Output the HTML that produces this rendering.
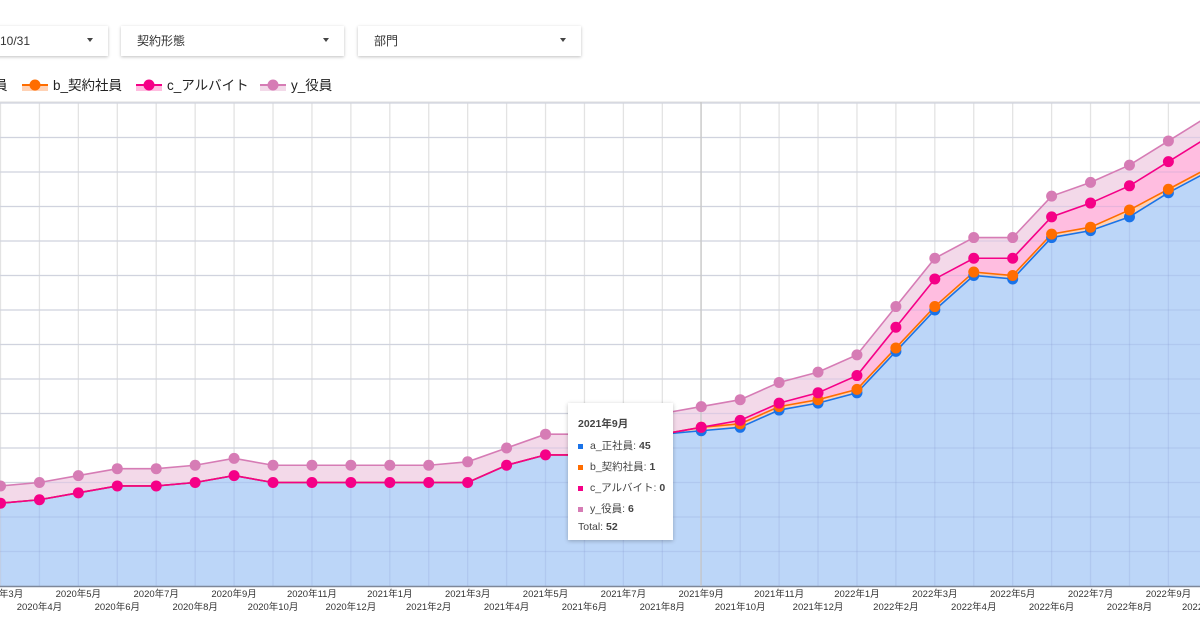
<!DOCTYPE html>
<html><head><meta charset="utf-8">
<style>
body{margin:0;width:1200px;height:628px;background:#fff;overflow:hidden;font-family:"Liberation Sans","Noto Sans CJK JP",sans-serif;position:relative}
.dd{position:absolute;top:26px;height:30px;background:#fff;box-shadow:0 1px 3px rgba(0,0,0,.25);font-size:12px;color:#333;line-height:30px}
.dd span.t{position:absolute;left:16px}
.dd span.a{position:absolute;right:15px;top:12px;width:0;height:0;border-left:3.5px solid transparent;border-right:3.5px solid transparent;border-top:4px solid #444}
.lg{position:absolute;top:77px;font-size:13.5px;color:#222;line-height:18px}
.tt{position:absolute;left:568px;top:403px;width:105px;height:137px;background:#fff;box-shadow:0 1px 4px rgba(0,0,0,.25);font-size:10.5px;color:#444}
.tt div{position:absolute;left:10px;white-space:nowrap}
.sq{display:inline-block;width:5px;height:5px;margin-right:7px;vertical-align:middle}
</style></head><body>
<div class="dd" style="left:-10px;width:118px"><span class="t" style="left:10px">10/31</span><span class="a"></span></div>
<div class="dd" style="left:121px;width:223px"><span class="t">契約形態</span><span class="a"></span></div>
<div class="dd" style="left:358px;width:223px"><span class="t">部門</span><span class="a"></span></div>
<svg width="1200" height="628" style="position:absolute;left:0;top:0">
<g id="grid"></g><g id="areas"></g><g id="lines"></g><g id="dots"></g><g id="xl"></g>
</svg>
<div class="lg" style="left:-6px">員</div>
<div class="lg" style="left:22px"><svg width="26" height="14" style="vertical-align:-2px;margin-right:5px"><rect x="0" y="7" width="26" height="6" fill="#ffd2b5"/><line x1="0" y1="7" x2="26" y2="7" stroke="#ff6d00" stroke-width="2"/><circle cx="13" cy="7" r="5.5" fill="#ff6d00"/></svg>b_契約社員</div>
<div class="lg" style="left:136px"><svg width="26" height="14" style="vertical-align:-2px;margin-right:5px"><rect x="0" y="7" width="26" height="6" fill="#ffbde0"/><line x1="0" y1="7" x2="26" y2="7" stroke="#f50087" stroke-width="2"/><circle cx="13" cy="7" r="5.5" fill="#f50087"/></svg>c_アルバイト</div>
<div class="lg" style="left:260px"><svg width="26" height="14" style="vertical-align:-2px;margin-right:5px"><rect x="0" y="7" width="26" height="6" fill="#f3d9e9"/><line x1="0" y1="7" x2="26" y2="7" stroke="#d67cb5" stroke-width="2"/><circle cx="13" cy="7" r="5.5" fill="#d67cb5"/></svg>y_役員</div>
<div class="tt">
<div style="top:13px;font-weight:bold">2021年9月</div>
<div style="top:35px"><span class="sq" style="background:#1a73e8"></span>a_正社員: <b>45</b></div>
<div style="top:56px"><span class="sq" style="background:#ff6d00"></span>b_契約社員: <b>1</b></div>
<div style="top:77px"><span class="sq" style="background:#f50087"></span>c_アルバイト: <b>0</b></div>
<div style="top:98px"><span class="sq" style="background:#d67cb5"></span>y_役員: <b>6</b></div>
<div style="top:118px">Total: <b>52</b></div>
</div>
<script>
const months=["2020年3月","2020年4月","2020年5月","2020年6月","2020年7月","2020年8月","2020年9月","2020年10月","2020年11月","2020年12月","2021年1月","2021年2月","2021年3月","2021年4月","2021年5月","2021年6月","2021年7月","2021年8月","2021年9月","2021年10月","2021年11月","2021年12月","2022年1月","2022年2月","2022年3月","2022年4月","2022年5月","2022年6月","2022年7月","2022年8月","2022年9月","2022年10月"];
const seriesA=[24,25,27,29,29,30,32,30,30,30,30,30,30,35,38,38,41,44,45,46,51,53,56,68,80,90,89,101,103,107,114,120];
const seriesB=[0,0,0,0,0,0,0,0,0,0,0,0,0,0,0,0,0,0,1,1,1,1,1,1,1,1,1,1,1,2,1,1];
const seriesC=[0,0,0,0,0,0,0,0,0,0,0,0,0,0,0,0,0,0,0,1,1,2,4,6,8,4,5,5,7,7,8,9];
const seriesY=[5,5,5,5,5,5,5,5,5,5,5,5,6,5,6,6,6,6,6,6,6,6,6,6,6,6,6,6,6,6,6,6];
const yTicks=[0,10,20,30,40,50,60,70,80,90,100,110,120,130,140];
const NS="http://www.w3.org/2000/svg";
const xS=i=>0.5+i*38.93;
const yS=v=>586-v*3.45;
function mk(tag,attrs,parent){const e=document.createElementNS(NS,tag);for(const k in attrs)e.setAttribute(k,attrs[k]);document.getElementById(parent).appendChild(e);return e;}
yTicks.forEach(t=>{const l=mk('line',{x1:0,x2:1200,y1:yS(t),y2:yS(t),stroke:'#e3e3e3','stroke-width':1.3},'grid');

});
mk('line',{x1:0,x2:1200,y1:102,y2:102,stroke:'#e3e3e3','stroke-width':1.3},'grid');
months.forEach((m,i)=>{const l=mk('line',{x1:xS(i),x2:xS(i),y1:102,y2:586,stroke:'#e3e3e3','stroke-width':1.3},'grid');


const t=mk('text',{x:xS(i),y:i%2==0?597:610,'text-anchor':'middle','font-size':'9.5','fill':'#333','font-family':'"Liberation Sans","Noto Sans CJK JP",sans-serif'},'xl');
t.textContent=m;

});
const c1=seriesA.map((v,i)=>v),c2=c1.map((v,i)=>v+seriesB[i]),c3=c2.map((v,i)=>v+seriesC[i]),c4=c3.map((v,i)=>v+seriesY[i]);
const pts=arr=>arr.map((v,i)=>xS(i)+','+yS(v));
function band(lo,hi,fill,name){const p=pts(hi).concat(lo?pts(lo).reverse():[xS(hi.length-1)+','+yS(0),xS(0)+','+yS(0)]);
const e=mk('polygon',{points:p.join(' '),fill:fill},'areas');

}
band(null,c1,'#bcd6f8','area-a');
band(c1,c2,'#ffd2b5','area-b');
band(c2,c3,'#ffbde0','area-c');
band(c3,c4,'#f3d9e9','area-y');
yTicks.forEach(t=>{if(t>0)mk('line',{x1:0,x2:1200,y1:yS(t),y2:yS(t),stroke:'rgba(120,140,200,0.18)','stroke-width':1.3},'areas');});
months.forEach((m,i)=>mk('line',{x1:xS(i),x2:xS(i),y1:yS(c1[i]),y2:586,stroke:'rgba(120,140,200,0.18)','stroke-width':1.3},'areas'));
mk('line',{x1:0,x2:1200,y1:586.5,y2:586.5,stroke:'#7d8799','stroke-width':1.5},'areas');
mk('line',{x1:701,x2:701,y1:102,y2:586,stroke:'#c8c8c8','stroke-width':1.3},'areas');
[[c1,'#1a73e8','a'],[c2,'#ff6d00','b'],[c3,'#f50087','c'],[c4,'#d67cb5','y']].forEach(([arr,col,n])=>{
const l=mk('polyline',{points:pts(arr).join(' '),fill:'none',stroke:col,'stroke-width':1.6},'lines');


arr.forEach((v,i)=>{if(n=='a'&&seriesB[i]==0&&seriesC[i]==0)return;if(n=='b'&&seriesB[i]==0)return;
const d=mk('circle',{cx:xS(i),cy:yS(v),r:5.5,fill:col},'dots');

});});
</script>
</body></html>
